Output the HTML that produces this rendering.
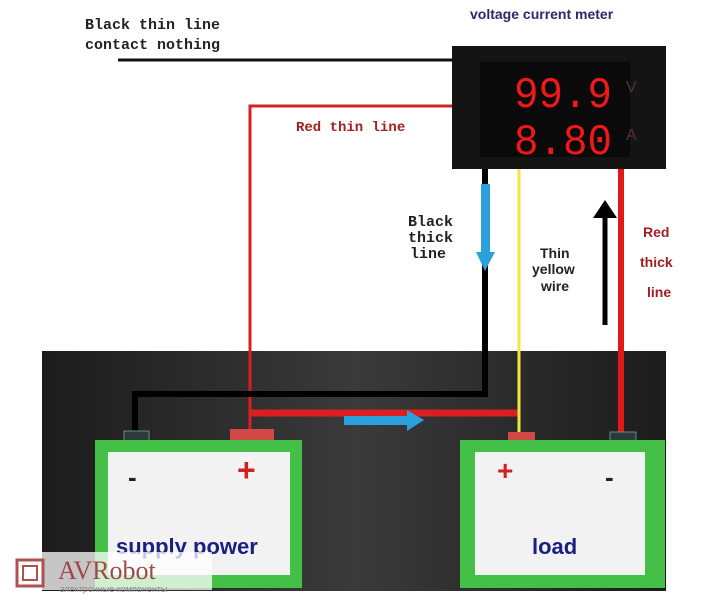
<!DOCTYPE html><html><head><meta charset="utf-8"><style>
body{margin:0;width:704px;height:600px;background:#fff;overflow:hidden;position:relative}
svg{position:absolute;left:0;top:0}
</style></head><body>
<svg width="704" height="600" viewBox="0 0 704 600">
<defs><linearGradient id="pg" x1="0" y1="0" x2="1" y2="0"><stop offset="0" stop-color="#1c1c1c"/><stop offset="0.5" stop-color="#3a3a3a"/><stop offset="1" stop-color="#1c1c1c"/></linearGradient></defs>
<text x="85" y="29" font-family="Liberation Mono" font-weight="bold" font-size="15" fill="#222">Black thin line</text>
<text x="85" y="49" font-family="Liberation Mono" font-weight="bold" font-size="15" fill="#222">contact nothing</text>
<text x="470" y="19" font-family="Liberation Sans" font-weight="bold" font-size="14" fill="#2a2a6a">voltage  current meter</text>
<line x1="118" y1="60" x2="455" y2="60" stroke="#111" stroke-width="3"/>
<rect x="42" y="351" width="624" height="240" fill="url(#pg)"/>
<rect x="452" y="46" width="214" height="123" fill="#141414"/>
<rect x="480" y="62" width="150" height="95" fill="#0a0a0a"/>
<text x="514" y="107" font-family="Liberation Mono" font-size="44" fill="#f01818" textLength="98" lengthAdjust="spacingAndGlyphs">99.9</text>
<text x="514" y="154" font-family="Liberation Mono" font-size="44" fill="#f01818" textLength="98" lengthAdjust="spacingAndGlyphs">8.80</text>
<text x="626" y="92" font-family="Liberation Sans" font-size="16" fill="#553333">V</text>
<text x="626" y="140" font-family="Liberation Sans" font-size="16" fill="#553333">A</text>
<polyline points="452,106 250,106 250,430" fill="none" stroke="#d42020" stroke-width="3"/>
<polyline points="485,169 485,394 135,394 135,432" fill="none" stroke="#000" stroke-width="6"/>
<line x1="250" y1="413" x2="520" y2="413" stroke="#d82020" stroke-width="7"/>
<line x1="519" y1="169" x2="519" y2="432" stroke="#f2e640" stroke-width="3"/>
<line x1="621" y1="169" x2="621" y2="432" stroke="#e01818" stroke-width="6"/>
<rect x="481" y="184" width="9" height="70" fill="#2aa0dc"/>
<polygon points="476,252 495,252 485,271" fill="#2aa0dc"/>
<line x1="605" y1="215" x2="605" y2="325" stroke="#000" stroke-width="5"/>
<polygon points="593,218 617,218 605,200" fill="#000"/>
<rect x="344" y="416" width="65" height="9" fill="#2aa0dc"/>
<polygon points="407,410 407,431 424,420" fill="#2aa0dc"/>
<text x="408" y="226" font-family="Liberation Mono" font-weight="bold" font-size="15" fill="#222">Black</text>
<text x="408" y="242" font-family="Liberation Mono" font-weight="bold" font-size="15" fill="#222">thick</text>
<text x="410" y="258" font-family="Liberation Mono" font-weight="bold" font-size="15" fill="#222">line</text>
<text x="296" y="131" font-family="Liberation Mono" font-weight="bold" font-size="14" fill="#a02020">Red thin line</text>
<text x="540" y="258" font-family="Liberation Sans" font-weight="bold" font-size="14" fill="#222">Thin</text>
<text x="532" y="274" font-family="Liberation Sans" font-weight="bold" font-size="14" fill="#222">yellow</text>
<text x="541" y="291" font-family="Liberation Sans" font-weight="bold" font-size="14" fill="#222">wire</text>
<text x="643" y="237" font-family="Liberation Sans" font-weight="bold" font-size="14" fill="#a02020">Red</text>
<text x="640" y="267" font-family="Liberation Sans" font-weight="bold" font-size="14" fill="#a02020">thick</text>
<text x="647" y="297" font-family="Liberation Sans" font-weight="bold" font-size="14" fill="#a02020">line</text>
<rect x="124" y="431" width="25" height="14" fill="#2c3a3a" stroke="#6a8a80"/>
<rect x="230" y="429" width="44" height="15" fill="#d04848"/>
<rect x="95" y="440" width="207" height="148" fill="#44c048"/>
<rect x="108" y="452" width="182" height="123" fill="#f2f2f2"/>
<text x="128" y="486" font-family="Liberation Sans" font-weight="bold" font-size="26" fill="#222">-</text>
<text x="237" y="481" font-family="Liberation Sans" font-weight="bold" font-size="32" fill="#d02020">+</text>
<text x="116" y="554" font-family="Liberation Sans" font-weight="bold" font-size="22" fill="#1a2080">supply power</text>
<rect x="508" y="432" width="27" height="13" fill="#d04848"/>
<rect x="610" y="432" width="26" height="14" fill="#2c3a3a" stroke="#6a8a80"/>
<rect x="460" y="440" width="205" height="148" fill="#44c048"/>
<rect x="475" y="452" width="170" height="123" fill="#f2f2f2"/>
<text x="497" y="480" font-family="Liberation Sans" font-weight="bold" font-size="28" fill="#d02020">+</text>
<text x="605" y="486" font-family="Liberation Sans" font-weight="bold" font-size="26" fill="#222">-</text>
<text x="532" y="554" font-family="Liberation Sans" font-weight="bold" font-size="22" fill="#1a2080">load</text>
<rect x="40" y="552" width="172" height="38" fill="#ffffff" opacity="0.75"/>
<rect x="17" y="560" width="26" height="26" fill="none" stroke="#b05050" stroke-width="3"/>
<rect x="23" y="566" width="14" height="14" fill="none" stroke="#b05050" stroke-width="2"/>
<text x="58" y="579" font-family="Liberation Serif" font-size="26" fill="#a04848">AVRobot</text>
<text x="60" y="592" font-family="Liberation Sans" font-size="9" fill="#888">электронные компоненты</text>
</svg>
</body></html>
